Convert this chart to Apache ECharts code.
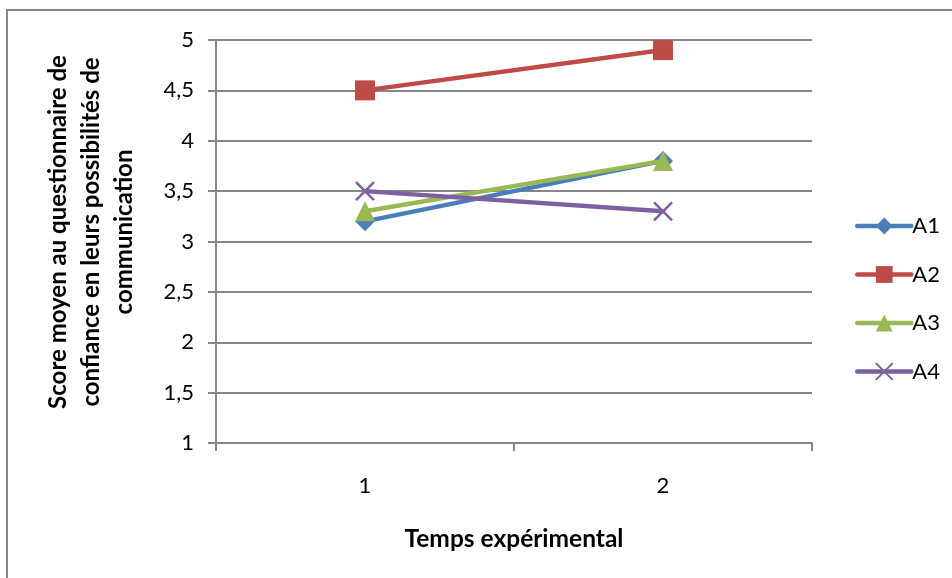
<!DOCTYPE html>
<html>
<head>
<meta charset="utf-8">
<script src="https://cdn.jsdelivr.net/npm/echarts@6/dist/echarts.min.js"></script>
<style>
html,body{margin:0;padding:0;background:#fff;}
#chart{width:952px;height:578px;}
</style>
</head>
<body>
<div id="chart"></div>
<script>
const categories = ['1', '2'];
const seriesNames = ['A1', 'A2', 'A3', 'A4'];
const valuesA1 = [3.2, 3.8];
const valuesA2 = [4.5, 4.9];
const valuesA3 = [3.3, 3.8];
const valuesA4 = [3.5, 3.3];
const yTitle = 'Score moyen au questionnaire de\nconfiance en leurs possibilités de\ncommunication';
const xTitle = 'Temps expérimental';

const colors = ['#4A7EBB', '#BE4B48', '#98B954', '#7D60A0'];
const symbols = ['diamond', 'rect', 'triangle', 'path://M0 0L10 10M10 0L0 10'];
const dataSets = [valuesA1, valuesA2, valuesA3, valuesA4];
const FONT = 'Lato, "Open Sans", sans-serif';
const GRID = '#878787';

const chart = echarts.init(document.getElementById('chart'), null, {renderer: 'canvas'});

const series = seriesNames.map((n, i) => ({
  name: n,
  type: 'line',
  data: dataSets[i],
  symbol: symbols[i],
  symbolSize: i === 3 ? 18 : 20,
  lineStyle: {color: colors[i], width: 4.5, cap: 'round'},
  itemStyle: i === 3
    ? {color: colors[i], borderColor: colors[i], borderWidth: 2.5}
    : {color: colors[i], borderColor: colors[i], borderWidth: 0},
  emphasis: {disabled: true},
  animation: false,
  z: 2 + i
}));

chart.setOption({
  animation: false,
  textStyle: {fontFamily: FONT},
  grid: {left: 216, right: 140, top: 40, bottom: 135},
  legend: {
    orient: 'vertical',
    left: 850,
    top: 209,
    itemWidth: 54,
    itemHeight: 21,
    itemGap: 24.5,
    data: seriesNames,
    lineStyle: {width: 4.5, cap: 'round'},
    textStyle: {fontFamily: FONT, fontSize: 22, color: '#000', lineHeight: 24, padding: [0, 0, 0, -4]},
    selectedMode: false
  },
  xAxis: {
    type: 'category',
    data: categories,
    boundaryGap: true,
    name: xTitle,
    nameLocation: 'middle',
    nameGap: 84,
    nameTextStyle: {fontFamily: FONT, fontSize: 24.5, fontWeight: 'bold', color: '#000'},
    axisLine: {lineStyle: {color: GRID, width: 2}},
    axisTick: {show: true, length: 8, lineStyle: {color: GRID, width: 2}},
    axisLabel: {fontFamily: FONT, fontSize: 22, color: '#000', margin: 32}
  },
  yAxis: {
    type: 'value',
    min: 1,
    max: 5,
    interval: 0.5,
    axisLine: {show: true, lineStyle: {color: GRID, width: 2}},
    axisTick: {show: true, length: 8, lineStyle: {color: GRID, width: 2}},
    splitLine: {show: true, lineStyle: {color: GRID, width: 2}},
    axisLabel: {
      fontFamily: FONT, fontSize: 22, color: '#000', margin: 22,
      formatter: v => String(v).replace('.', ',')
    }
  },
  graphic: [
    {
      type: 'rect',
      shape: {x: 7, y: 10, width: 980, height: 620},
      style: {fill: 'none', stroke: '#878787', lineWidth: 2},
      silent: true, z: -10
    },
    {
      type: 'text',
      x: 91, y: 232,
      rotation: Math.PI / 2,
      style: {
        text: yTitle,
        font: 'bold 24px ' + FONT,
        fill: '#000',
        textAlign: 'center',
        textVerticalAlign: 'middle',
        lineHeight: 33
      },
      silent: true
    }
  ],
  series: series
});
</script>
</body>
</html>
